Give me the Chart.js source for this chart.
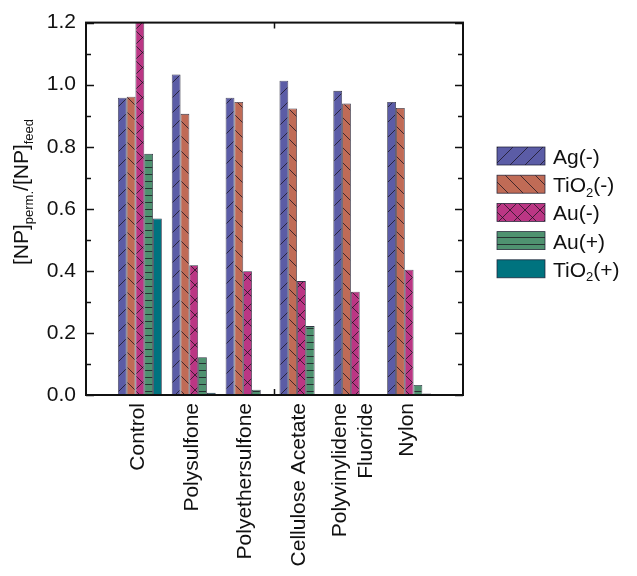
<!DOCTYPE html>
<html>
<head>
<meta charset="utf-8">
<script src="https://cdn.jsdelivr.net/npm/chart.js@4"></script>
<style>
  html, body { margin: 0; padding: 0; background: #fff; }
  #wrap { width: 637px; height: 576px; position: relative; }
</style>
</head>
<body>
<div id="wrap"><canvas id="chart"></canvas></div>
<script>
// ========== DATA ==========
const categories = ['Control', 'Polysulfone', 'Polyethersulfone', 'Cellulose Acetate', ['Polyvinylidene', 'Fluoride'], 'Nylon'];
const seriesNames = ['Ag(-)', 'TiO2(-)', 'Au(-)', 'Au(+)', 'TiO2(+)'];
const agNeg   = [0.958, 1.033, 0.958, 1.013, 0.980, 0.944];
const tio2Neg = [0.961, 0.906, 0.944, 0.923, 0.939, 0.925];
const auNeg   = [1.25, 0.418, 0.399, 0.367, 0.333, 0.404];
const auPos   = [0.777, 0.122, 0.017, 0.222, 0.003, 0.032];
const tio2Pos = [0.569, 0.007, 0, 0, 0.002, 0.005];
const yMin = 0, yMax = 1.2, yStep = 0.1;

const FONT = '"Liberation Sans", Arial, Helvetica, sans-serif';
const FONT_SIZE = 21;

// ========== PATTERNS ==========
function makePattern(bg, kind) {
    const w = 15;
    const s = kind === 'h' ? 7 : 15;
    const c = document.createElement('canvas');
    c.width = w; c.height = s;
    const g = c.getContext('2d');
    g.fillStyle = bg;
    g.fillRect(0, 0, c.width, c.height);
    if (kind === 'solid') return g.createPattern(c, 'repeat');
    g.strokeStyle = 'rgba(25,20,30,0.85)';
    g.lineWidth = 0.9;
    g.beginPath();
    if (kind === '/' || kind === 'x') {
        g.moveTo(-2, s + 2); g.lineTo(s + 2, -2);
    }
    if (kind === '\\' || kind === 'x') {
        g.moveTo(-2, -2); g.lineTo(s + 2, s + 2);
    }
    if (kind === 'h') {
        g.moveTo(0, s - 0.5); g.lineTo(w, s - 0.5);
    }
    g.stroke();
    return g.createPattern(c, 'repeat');
}

const styles = [
    { bg: '#5b5ca6', kind: '/' },
    { bg: '#c06b56', kind: '\\' },
    { bg: '#bb3684', kind: 'x' },
    { bg: '#4f9270', kind: 'h' },
    { bg: '#00737f', kind: 'solid' }
];

// pad with empty slots so the groups sit in from the frame
const pad = arr => [null, ...arr, null];
const labels = ['', ...categories, ''];
const values = [agNeg, tio2Neg, auNeg, auPos, tio2Pos];

const datasets = values.map((v, i) => ({
    label: seriesNames[i],
    data: pad(v),
    backgroundColor: makePattern(styles[i].bg, styles[i].kind),
    borderColor: 'rgba(30,30,50,0.9)',
    borderWidth: 0.8,
    categoryPercentage: 0.815,
    barPercentage: 1.0
}));

// ========== TEXT HELPER (subscripts) ==========
function splitSub(text) {
    // "TiO2(-)" -> [{t:'TiO'}, {t:'2', sub:true}, {t:'(-)'}]
    const parts = [];
    const re = /([A-Za-z])(\d+)/g;
    let last = 0, m;
    while ((m = re.exec(text))) {
        parts.push({ t: text.slice(last, m.index + 1) });
        parts.push({ t: m[2], sub: true });
        last = m.index + m[0].length;
    }
    parts.push({ t: text.slice(last) });
    return parts.filter(p => p.t.length);
}

function drawRich(ctx, parts, x, y, size, align) {
    const subSize = Math.round(size * 0.62);
    let total = 0;
    parts.forEach(p => {
        ctx.font = (p.sub ? subSize : size) + 'px ' + FONT;
        p.w = ctx.measureText(p.t).width;
        total += p.w;
    });
    let cx = align === 'center' ? x - total / 2 : x;
    ctx.textAlign = 'left';
    ctx.textBaseline = 'alphabetic';
    parts.forEach(p => {
        ctx.font = (p.sub ? subSize : size) + 'px ' + FONT;
        ctx.fillText(p.t, cx, p.sub ? y + size * 0.22 : y);
        cx += p.w;
    });
}

// ========== FRAME, TICKS, LABELS, TITLE, LEGEND ==========
const decorations = {
    id: 'decorations',
    afterDatasetsDraw(chart) {
        const ctx = chart.ctx;
        const a = chart.chartArea;
        const ys = chart.scales.y;
        const xs = chart.scales.x;
        ctx.save();
        ctx.strokeStyle = '#111';

        // inward ticks on left and right
        ctx.lineWidth = 1.5;
        ys.ticks.forEach(t => {
            const py = Math.round(ys.getPixelForValue(t.value)) + 0.5;
            const major = Math.round(t.value * 10) % 2 === 0;
            const len = major ? 8 : 5;
            ctx.beginPath();
            ctx.moveTo(a.left, py); ctx.lineTo(a.left + len, py);
            ctx.moveTo(a.right, py); ctx.lineTo(a.right - len, py);
            ctx.stroke();
        });

        // single x tick between the 3rd and 4th groups
        const mid = (xs.getPixelForValue(3) + xs.getPixelForValue(4)) / 2;
        ctx.beginPath();
        ctx.moveTo(mid, a.top); ctx.lineTo(mid, a.top + 6);
        ctx.moveTo(mid, a.bottom); ctx.lineTo(mid, a.bottom - 6);
        ctx.stroke();

        // frame
        ctx.lineWidth = 2;
        ctx.strokeRect(a.left, a.top, a.right - a.left, a.bottom - a.top);

        // category labels, rotated, multi-line centred on the group
        ctx.fillStyle = '#111';
        ctx.font = FONT_SIZE + 'px ' + FONT;
        ctx.textAlign = 'right';
        ctx.textBaseline = 'middle';
        const lineH = 26;
        categories.forEach((cat, i) => {
            const lines = Array.isArray(cat) ? cat : [cat];
            const px = xs.getPixelForValue(i + 1) - 2;
            ctx.save();
            ctx.translate(px, a.bottom + 8);
            ctx.rotate(-Math.PI / 2);
            lines.forEach((ln, j) => {
                ctx.fillText(ln, 0, (j - (lines.length - 1) / 2) * lineH);
            });
            ctx.restore();
        });

        // y title
        ctx.save();
        ctx.translate(28, 192);
        ctx.rotate(-Math.PI / 2);
        drawRich(ctx, [
            { t: '[NP]' }, { t: 'perm.', sub: true },
            { t: '/[NP]' }, { t: 'feed', sub: true }
        ], 0, 0, FONT_SIZE, 'center');
        ctx.restore();

        // legend
        chart.data.datasets.forEach((ds, i) => {
            const cy = 156 + i * 28.2;
            ctx.fillStyle = ds.backgroundColor;
            ctx.fillRect(497, cy - 9, 48, 18);
            ctx.lineWidth = 0.8;
            ctx.strokeStyle = 'rgba(30,30,50,0.9)';
            ctx.strokeRect(497, cy - 9, 48, 18);
            ctx.fillStyle = '#111';
            drawRich(ctx, splitSub(ds.label), 553, cy + 8, FONT_SIZE, 'left');
        });
        ctx.restore();
    }
};

// ========== CHART ==========
const chart = new Chart(document.getElementById('chart'), {
    type: 'bar',
    data: { labels: labels, datasets: datasets },
    options: {
        responsive: true,
        maintainAspectRatio: false,
        animation: false,
        layout: { padding: { left: 0, right: 174, top: 17, bottom: 0 } },
        plugins: {
            legend: { display: false },
            tooltip: { enabled: false }
        },
        scales: {
            x: {
                type: 'category',
                offset: false,
                grid: { display: false },
                border: { display: false },
                ticks: { display: false },
                afterFit: s => { s.height = 181; }
            },
            y: {
                min: yMin,
                max: yMax,
                grid: { display: false, drawTicks: false },
                border: { display: false },
                ticks: {
                    stepSize: yStep,
                    padding: 10,
                    color: '#111',
                    font: { family: FONT, size: FONT_SIZE },
                    callback: v => (Math.round(v * 10) % 2 === 0 ? v.toFixed(1) : '')
                },
                afterFit: s => { s.width = 86; }
            }
        }
    },
    plugins: [decorations]
});
</script>
</body>
</html>
